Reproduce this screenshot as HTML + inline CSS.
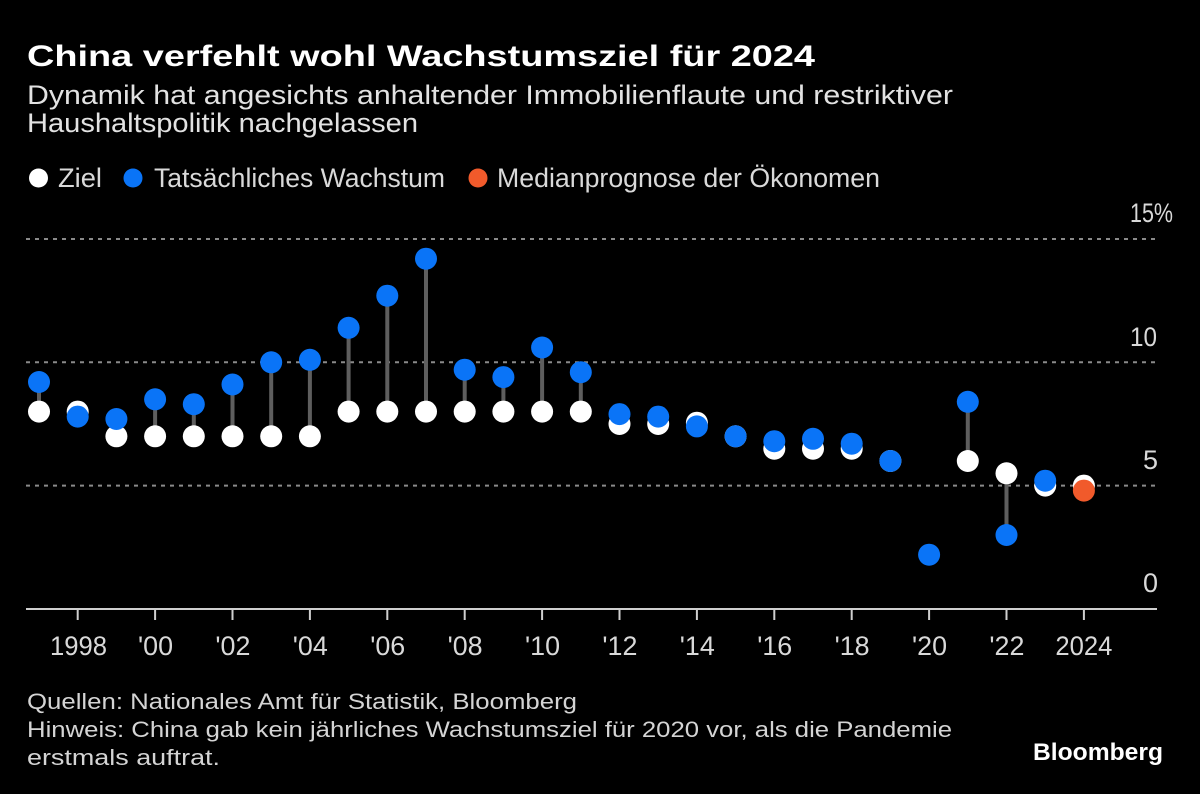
<!DOCTYPE html>
<html><head><meta charset="utf-8"><style>
html,body{margin:0;padding:0;background:#000;}
svg{display:block;}
text{font-family:"Liberation Sans",sans-serif;}
</style></head><body>
<svg width="1200" height="794" viewBox="0 0 1200 794" xmlns="http://www.w3.org/2000/svg">
<rect width="1200" height="794" fill="#000"/>
<text x="27" y="66" font-size="30" font-weight="bold" fill="#fff" textLength="788" lengthAdjust="spacingAndGlyphs">China verfehlt wohl Wachstumsziel für 2024</text>
<text x="27" y="104" font-size="27" fill="#e2e2e2" textLength="926" lengthAdjust="spacingAndGlyphs">Dynamik hat angesichts anhaltender Immobilienflaute und restriktiver</text>
<text x="27" y="132" font-size="27" fill="#e2e2e2" textLength="391" lengthAdjust="spacingAndGlyphs">Haushaltspolitik nachgelassen</text>
<circle cx="38.5" cy="178" r="9.5" fill="#fff"/>
<text x="58" y="187" font-size="27" fill="#d9d9d9" textLength="44" lengthAdjust="spacingAndGlyphs">Ziel</text>
<circle cx="133" cy="178" r="9.5" fill="#0a74f7"/>
<text x="154" y="187" font-size="27" fill="#d9d9d9" textLength="291" lengthAdjust="spacingAndGlyphs">Tatsächliches Wachstum</text>
<circle cx="478" cy="178" r="9.5" fill="#f15a2b"/>
<text x="497" y="187" font-size="27" fill="#d9d9d9" textLength="383" lengthAdjust="spacingAndGlyphs">Medianprognose der Ökonomen</text>
<g stroke="#8a8a8a" stroke-width="2" stroke-dasharray="4 5">
<line x1="26" y1="239" x2="1157" y2="239"/>
<line x1="26" y1="362.3" x2="1157" y2="362.3"/>
<line x1="26" y1="485.6" x2="1157" y2="485.6"/>
</g>
<g font-size="27" fill="#d9d9d9">
<text x="1130" y="222" textLength="43" lengthAdjust="spacingAndGlyphs">15%</text>
<text x="1130" y="346" textLength="27" lengthAdjust="spacingAndGlyphs">10</text>
<text x="1158" y="469" text-anchor="end">5</text>
<text x="1158" y="592" text-anchor="end">0</text>
</g>
<line x1="26" y1="609" x2="1157" y2="609" stroke="#cfcfcf" stroke-width="2"/>
<g stroke="#cfcfcf" stroke-width="2">
<line x1="77.7" y1="609" x2="77.7" y2="620"/>
<line x1="155.1" y1="609" x2="155.1" y2="620"/>
<line x1="232.5" y1="609" x2="232.5" y2="620"/>
<line x1="309.9" y1="609" x2="309.9" y2="620"/>
<line x1="387.3" y1="609" x2="387.3" y2="620"/>
<line x1="464.7" y1="609" x2="464.7" y2="620"/>
<line x1="542.1" y1="609" x2="542.1" y2="620"/>
<line x1="619.5" y1="609" x2="619.5" y2="620"/>
<line x1="696.9" y1="609" x2="696.9" y2="620"/>
<line x1="774.3" y1="609" x2="774.3" y2="620"/>
<line x1="851.7" y1="609" x2="851.7" y2="620"/>
<line x1="929.1" y1="609" x2="929.1" y2="620"/>
<line x1="1006.5" y1="609" x2="1006.5" y2="620"/>
<line x1="1083.9" y1="609" x2="1083.9" y2="620"/>
</g>
<g font-size="27" fill="#d9d9d9">
<text x="50" y="655" textLength="57" lengthAdjust="spacingAndGlyphs">1998</text>
<text x="138" y="655" textLength="35" lengthAdjust="spacingAndGlyphs">'00</text>
<text x="215.4" y="655" textLength="35" lengthAdjust="spacingAndGlyphs">'02</text>
<text x="292.8" y="655" textLength="35" lengthAdjust="spacingAndGlyphs">'04</text>
<text x="370.2" y="655" textLength="35" lengthAdjust="spacingAndGlyphs">'06</text>
<text x="447.6" y="655" textLength="35" lengthAdjust="spacingAndGlyphs">'08</text>
<text x="525" y="655" textLength="35" lengthAdjust="spacingAndGlyphs">'10</text>
<text x="602.4" y="655" textLength="35" lengthAdjust="spacingAndGlyphs">'12</text>
<text x="679.8" y="655" textLength="35" lengthAdjust="spacingAndGlyphs">'14</text>
<text x="757.2" y="655" textLength="35" lengthAdjust="spacingAndGlyphs">'16</text>
<text x="834.6" y="655" textLength="35" lengthAdjust="spacingAndGlyphs">'18</text>
<text x="912" y="655" textLength="35" lengthAdjust="spacingAndGlyphs">'20</text>
<text x="989.4" y="655" textLength="35" lengthAdjust="spacingAndGlyphs">'22</text>
<text x="1055.4" y="655" textLength="57" lengthAdjust="spacingAndGlyphs">2024</text>
</g>
<g stroke="#5e5e5e" stroke-width="4">
<line x1="39" y1="411.6" x2="39" y2="382"/>
<line x1="77.7" y1="411.6" x2="77.7" y2="416.6"/>
<line x1="116.4" y1="436.3" x2="116.4" y2="419"/>
<line x1="155.1" y1="436.3" x2="155.1" y2="399.3"/>
<line x1="193.8" y1="436.3" x2="193.8" y2="404.2"/>
<line x1="232.5" y1="436.3" x2="232.5" y2="384.5"/>
<line x1="271.2" y1="436.3" x2="271.2" y2="362.3"/>
<line x1="309.9" y1="436.3" x2="309.9" y2="359.8"/>
<line x1="348.6" y1="411.6" x2="348.6" y2="327.8"/>
<line x1="387.3" y1="411.6" x2="387.3" y2="295.7"/>
<line x1="426" y1="411.6" x2="426" y2="258.7"/>
<line x1="464.7" y1="411.6" x2="464.7" y2="369.7"/>
<line x1="503.4" y1="411.6" x2="503.4" y2="377.1"/>
<line x1="542.1" y1="411.6" x2="542.1" y2="347.5"/>
<line x1="580.8" y1="411.6" x2="580.8" y2="372.2"/>
<line x1="619.5" y1="424" x2="619.5" y2="414.1"/>
<line x1="658.2" y1="424" x2="658.2" y2="416.6"/>
<line x1="696.9" y1="424" x2="696.9" y2="426.4"/>
<line x1="774.3" y1="448.7" x2="774.3" y2="441.2"/>
<line x1="813" y1="448.7" x2="813" y2="438.8"/>
<line x1="851.7" y1="448.7" x2="851.7" y2="443.7"/>
<line x1="967.8" y1="461" x2="967.8" y2="401.8"/>
<line x1="1006.5" y1="473.3" x2="1006.5" y2="535"/>
<line x1="1045.2" y1="485.6" x2="1045.2" y2="480.7"/>
<line x1="1083.9" y1="485.6" x2="1083.9" y2="490.6"/>
</g>
<g fill="#fff">
<circle cx="39" cy="411.6" r="11"/>
<circle cx="77.7" cy="411.6" r="11"/>
<circle cx="116.4" cy="436.3" r="11"/>
<circle cx="155.1" cy="436.3" r="11"/>
<circle cx="193.8" cy="436.3" r="11"/>
<circle cx="232.5" cy="436.3" r="11"/>
<circle cx="271.2" cy="436.3" r="11"/>
<circle cx="309.9" cy="436.3" r="11"/>
<circle cx="348.6" cy="411.6" r="11"/>
<circle cx="387.3" cy="411.6" r="11"/>
<circle cx="426" cy="411.6" r="11"/>
<circle cx="464.7" cy="411.6" r="11"/>
<circle cx="503.4" cy="411.6" r="11"/>
<circle cx="542.1" cy="411.6" r="11"/>
<circle cx="580.8" cy="411.6" r="11"/>
<circle cx="619.5" cy="424" r="11"/>
<circle cx="658.2" cy="424" r="11"/>
<circle cx="696.9" cy="422.7" r="11"/>
<circle cx="735.6" cy="436.3" r="11"/>
<circle cx="774.3" cy="448.7" r="11"/>
<circle cx="813" cy="448.7" r="11"/>
<circle cx="851.7" cy="448.7" r="11"/>
<circle cx="890.4" cy="461" r="11"/>
<circle cx="967.8" cy="461" r="11"/>
<circle cx="1006.5" cy="473.3" r="11"/>
<circle cx="1045.2" cy="485.6" r="11"/>
<circle cx="1083.9" cy="485.6" r="11"/>
</g>
<g fill="#0a74f7">
<circle cx="39" cy="382" r="11"/>
<circle cx="77.7" cy="416.6" r="11"/>
<circle cx="116.4" cy="419" r="11"/>
<circle cx="155.1" cy="399.3" r="11"/>
<circle cx="193.8" cy="404.2" r="11"/>
<circle cx="232.5" cy="384.5" r="11"/>
<circle cx="271.2" cy="362.3" r="11"/>
<circle cx="309.9" cy="359.8" r="11"/>
<circle cx="348.6" cy="327.8" r="11"/>
<circle cx="387.3" cy="295.7" r="11"/>
<circle cx="426" cy="258.7" r="11"/>
<circle cx="464.7" cy="369.7" r="11"/>
<circle cx="503.4" cy="377.1" r="11"/>
<circle cx="542.1" cy="347.5" r="11"/>
<circle cx="580.8" cy="372.2" r="11"/>
<circle cx="619.5" cy="414.1" r="11"/>
<circle cx="658.2" cy="416.6" r="11"/>
<circle cx="696.9" cy="426.4" r="11"/>
<circle cx="735.6" cy="436.3" r="11"/>
<circle cx="774.3" cy="441.2" r="11"/>
<circle cx="813" cy="438.8" r="11"/>
<circle cx="851.7" cy="443.7" r="11"/>
<circle cx="890.4" cy="461" r="11"/>
<circle cx="929.1" cy="554.7" r="11"/>
<circle cx="967.8" cy="401.8" r="11"/>
<circle cx="1006.5" cy="535" r="11"/>
<circle cx="1045.2" cy="480.7" r="11"/>
</g>
<circle cx="1083.9" cy="490.6" r="11" fill="#f15a2b"/>
<g font-size="22" fill="#d4d4d4">
<text x="27" y="709" textLength="550" lengthAdjust="spacingAndGlyphs">Quellen: Nationales Amt für Statistik, Bloomberg</text>
<text x="27" y="737" textLength="925" lengthAdjust="spacingAndGlyphs">Hinweis: China gab kein jährliches Wachstumsziel für 2020 vor, als die Pandemie</text>
<text x="27" y="765" textLength="193" lengthAdjust="spacingAndGlyphs">erstmals auftrat.</text>
</g>
<text x="1033" y="760" font-size="24" font-weight="bold" fill="#fff" textLength="130" lengthAdjust="spacingAndGlyphs">Bloomberg</text>
</svg>
</body></html>
